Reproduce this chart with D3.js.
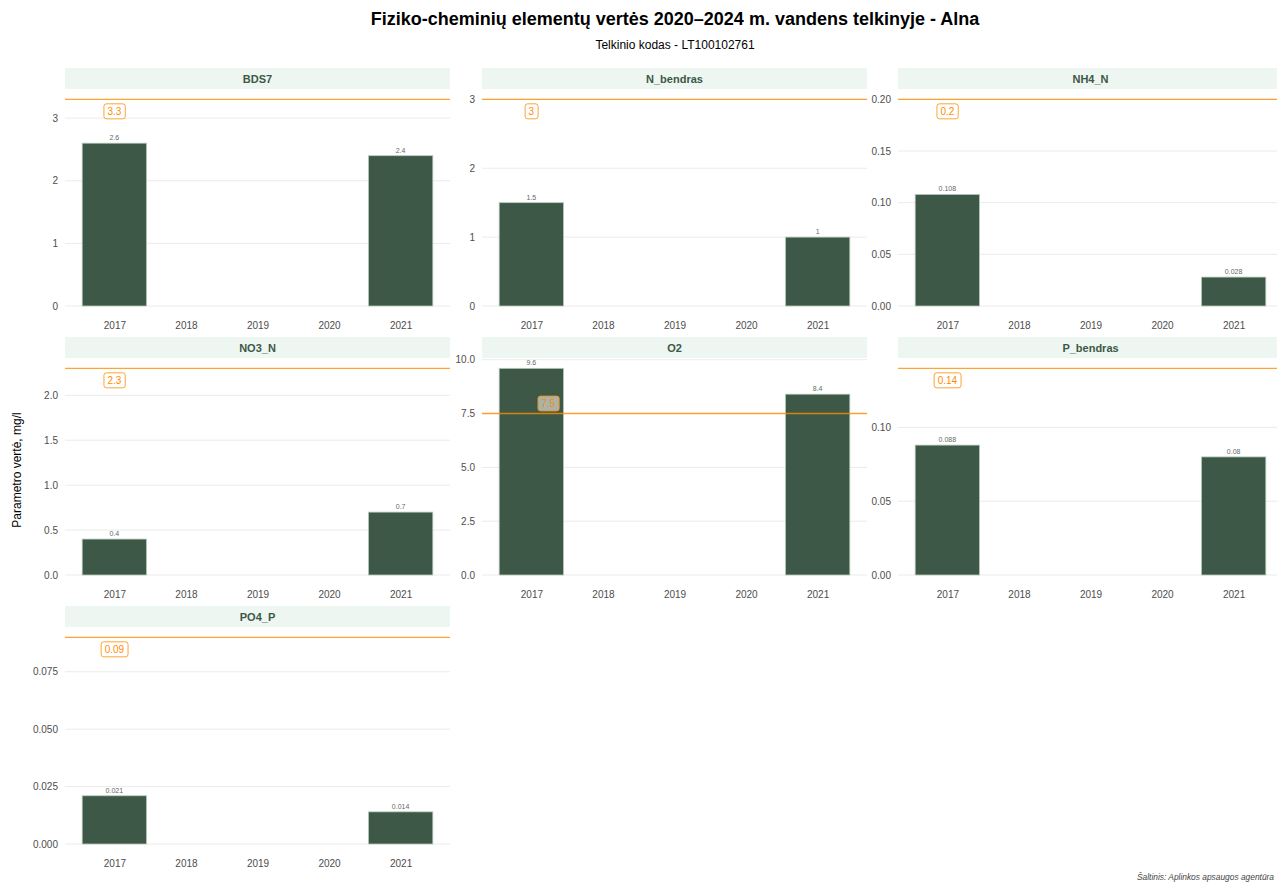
<!DOCTYPE html>
<html>
<head>
<meta charset="utf-8">
<script src="https://cdn.jsdelivr.net/npm/d3@7"></script>
<style>
  html, body { margin: 0; padding: 0; background: #ffffff; }
  svg { display: block; font-family: "Liberation Sans", Arial, Helvetica, sans-serif; }
</style>
</head>
<body>
<svg id="chart" width="1277" height="883"></svg>
<script>
// ---------- DATA ----------
const params = ["BDS7", "N_bendras", "NH4_N", "NO3_N", "O2", "P_bendras", "PO4_P"];
const years = ["2017", "2018", "2019", "2020", "2021"];
const values2017 = [2.6, 1.5, 0.108, 0.4, 9.6, 0.088, 0.021];
const values2021 = [2.4, 1, 0.028, 0.7, 8.4, 0.08, 0.014];
const thresholds = [3.3, 3, 0.2, 2.3, 7.5, 0.14, 0.09];
const tickLabels = [
  ["0", "1", "2", "3"],
  ["0", "1", "2", "3"],
  ["0.00", "0.05", "0.10", "0.15", "0.20"],
  ["0.0", "0.5", "1.0", "1.5", "2.0"],
  ["0.0", "2.5", "5.0", "7.5", "10.0"],
  ["0.00", "0.05", "0.10"],
  ["0.000", "0.025", "0.050", "0.075"]
];
const titleText = "Fiziko-cheminių elementų vertės 2020–2024 m. vandens telkinyje - Alna";
const subtitleText = "Telkinio kodas - LT100102761";
const yAxisTitle = "Parametro vertė, mg/l";
const captionText = "Šaltinis: Aplinkos apsaugos agentūra";

// ---------- LAYOUT ----------
const svg = d3.select("#chart");
const colX = [65, 482, 898];
const rowY = [68, 337, 606];
const panelW = 385;
const stripH = 21;
const plotH = 217;

const barFill = "#3d5846";
const barStroke = "#b9cbbd";
const orange = "#ff8c00";

svg.append("rect").attr("width", 1277).attr("height", 883).attr("fill", "#fff");

svg.append("text").attr("x", 675).attr("y", 25).attr("text-anchor", "middle")
  .attr("font-size", 18).attr("font-weight", "bold").attr("fill", "#000").text(titleText);
svg.append("text").attr("x", 675).attr("y", 49).attr("text-anchor", "middle")
  .attr("font-size", 12).attr("fill", "#000").text(subtitleText);

svg.append("text").attr("transform", "translate(21,470) rotate(-90)")
  .attr("text-anchor", "middle").attr("font-size", 12).attr("fill", "#000").text(yAxisTitle);

svg.append("text").attr("x", 1274).attr("y", 880).attr("font-size", 8.4)
  .attr("text-anchor", "end")
  .attr("font-style", "italic").attr("fill", "#444").text(captionText);

params.forEach((p, i) => {
  const col = i % 3, row = Math.floor(i / 3);
  const x0 = colX[col], top = rowY[row];
  const g = svg.append("g").attr("transform", `translate(${x0},${top})`);

  const vals = years.map(y => y === "2017" ? values2017[i] : (y === "2021" ? values2021[i] : null));
  const maxV = Math.max(d3.max(vals), thresholds[i]);

  const x = d3.scalePoint().domain(years).range([0, panelW]).padding(0.69);
  const step = x.step();
  const bw = step * 0.9;
  const y = d3.scaleLinear().domain([0, maxV * 1.05]).range([stripH + plotH, stripH]);

  // strip
  g.append("rect").attr("x", 0).attr("y", 0).attr("width", panelW).attr("height", stripH).attr("fill", "#eef6f1");
  g.append("text").attr("x", panelW / 2).attr("y", stripH / 2 + 4).attr("text-anchor", "middle")
    .attr("font-size", 11).attr("font-weight", "bold").attr("fill", "#3d5846").text(p);

  // grid lines
  const ticks = tickLabels[i].map(Number);
  g.append("g").selectAll("line").data(ticks).join("line")
    .attr("x1", 0).attr("x2", panelW)
    .attr("y1", d => y(d)).attr("y2", d => y(d))
    .attr("stroke", "#ebebeb").attr("stroke-width", 1);

  // y axis labels
  const yAxis = d3.axisLeft(y).tickValues(ticks).tickSize(0).tickPadding(7)
    .tickFormat((d, k) => tickLabels[i][k]);
  const ya = g.append("g").call(yAxis);
  ya.select(".domain").remove();
  ya.selectAll("text").attr("font-size", 10).attr("fill", "#4d4d4d")
    .attr("font-family", "Liberation Sans, Arial, sans-serif");

  // x axis labels
  const xAxis = d3.axisBottom(x).tickSize(0).tickPadding(16);
  const xa = g.append("g").attr("transform", `translate(0,${stripH + plotH})`).call(xAxis);
  xa.select(".domain").remove();
  xa.selectAll("text").attr("font-size", 10).attr("fill", "#4d4d4d")
    .attr("font-family", "Liberation Sans, Arial, sans-serif");

  // bars
  const data = years.map((yr, k) => ({ yr, v: vals[k] })).filter(d => d.v !== null);
  g.append("g").selectAll("rect").data(data).join("rect")
    .attr("x", d => x(d.yr) - bw / 2).attr("width", bw)
    .attr("y", d => y(d.v)).attr("height", d => y(0) - y(d.v))
    .attr("fill", barFill).attr("stroke", barStroke).attr("stroke-width", 0.8);

  // value labels
  g.append("g").selectAll("text").data(data).join("text")
    .attr("x", d => x(d.yr)).attr("y", d => y(d.v) - 3)
    .attr("text-anchor", "middle").attr("font-size", 7).attr("fill", "#5f6b62")
    .text(d => String(d.v));

  // threshold line
  const ty = y(thresholds[i]);
  g.append("line").attr("x1", 0).attr("x2", panelW).attr("y1", ty).attr("y2", ty)
    .attr("stroke", orange).attr("stroke-opacity", 0.8).attr("stroke-width", 1.4);

  // threshold label
  const exceeded = d3.max(vals) > thresholds[i];
  const lx = x(years[0]) + (exceeded ? 17 : 0);
  const ly = exceeded ? ty - 10 : ty + 12;
  const lbl = String(thresholds[i]);
  const lg = g.append("g");
  const t = lg.append("text").attr("x", lx).attr("y", ly + 3.5).attr("text-anchor", "middle")
    .attr("font-size", 10).attr("fill", orange).text(lbl);
  const bb = t.node().getBBox();
  lg.insert("rect", "text").attr("x", bb.x - 3.5).attr("y", ly - 7.5)
    .attr("width", bb.width + 7).attr("height", 15).attr("rx", 2.5)
    .attr("fill", "#ffffff").attr("fill-opacity", exceeded ? 0.55 : 1)
    .attr("stroke", orange).attr("stroke-opacity", 0.8).attr("stroke-width", 1);
});
</script>
</body>
</html>
